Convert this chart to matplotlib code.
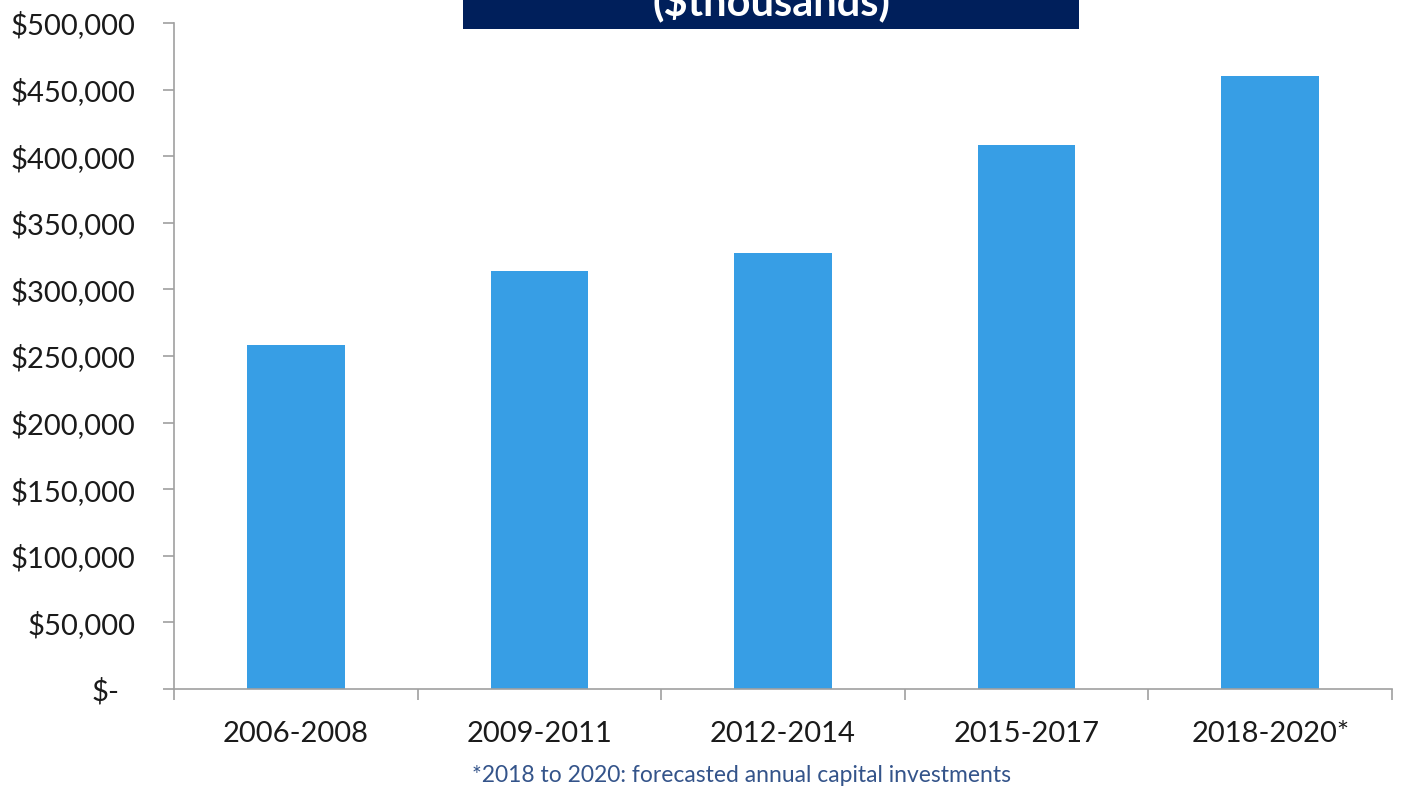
import matplotlib
matplotlib.use("Agg")
import matplotlib.pyplot as plt
import matplotlib.transforms as mtransforms
from matplotlib.patches import Rectangle
import numpy as np

categories = ["2006-2008", "2009-2011", "2012-2014", "2015-2017", "2018-2020*"]
values = [258000, 314000, 327500, 408500, 460000]
yticks = [0, 50000, 100000, 150000, 200000, 250000, 300000, 350000, 400000, 450000, 500000]
ytick_labels = ["$-", "$50,000", "$100,000", "$150,000", "$200,000", "$250,000",
                "$300,000", "$350,000", "$400,000", "$450,000", "$500,000"]
title_text = "($thousands)"
footnote = "*2018 to 2020: forecasted annual capital investments"

plt.rcParams['font.family'] = ['Lato', 'DejaVu Sans']

W, H = 1401, 791
fig = plt.figure(figsize=(W / 100, H / 100), dpi=100)
ax = fig.add_axes([174 / W, 1 - 689 / H, (1392 - 174) / W, (689 - 23) / H])

x = np.arange(len(categories))
ax.bar(x, values, width=0.40, color="#379EE5", zorder=2)
ax.set_xlim(-0.5, len(categories) - 0.5)
ax.set_ylim(0, 500000)

ax.set_yticks(yticks)
ax.set_yticklabels(ytick_labels, fontsize=21, color="#1a1a1a")
ax.tick_params(axis="y", length=8, width=1.2, color="#A0A0A0", pad=20)

ax.set_xticks(x)
ax.set_xticklabels(categories, fontsize=21, color="#1a1a1a")
ax.tick_params(axis="x", which="major", length=0, pad=23)
ax.set_xticks(np.arange(-0.5, len(categories)), minor=True)
ax.tick_params(axis="x", which="minor", length=8, width=1.2, color="#A0A0A0", direction="out")

for s in ["top", "right"]:
    ax.spines[s].set_visible(False)
for s in ["left", "bottom"]:
    ax.spines[s].set_color("#A0A0A0")
    ax.spines[s].set_linewidth(1.2)

# shift the "$-" label to the left like accounting format
lbl = ax.get_yticklabels()[0]
lbl.set_transform(lbl.get_transform() + mtransforms.ScaledTranslation(-11 / 72, 0, fig.dpi_scale_trans))

# title banner (cut off at top)
fig.patches.append(Rectangle((463 / W, 1 - 29 / H), (1079 - 463) / W, 29 / H + 0.01,
                             transform=fig.transFigure, facecolor="#001F5B", edgecolor="none"))
fig.text((463 + 1079) / 2 / W, 1 - 15 / H, title_text, ha="center", va="baseline",
         fontsize=30, fontweight="bold", color="white")

fig.text(742 / W, 1 - 776 / H, footnote, ha="center", va="center", fontsize=16.5, color="#34548A")

fig.savefig("out.png", dpi=100)
